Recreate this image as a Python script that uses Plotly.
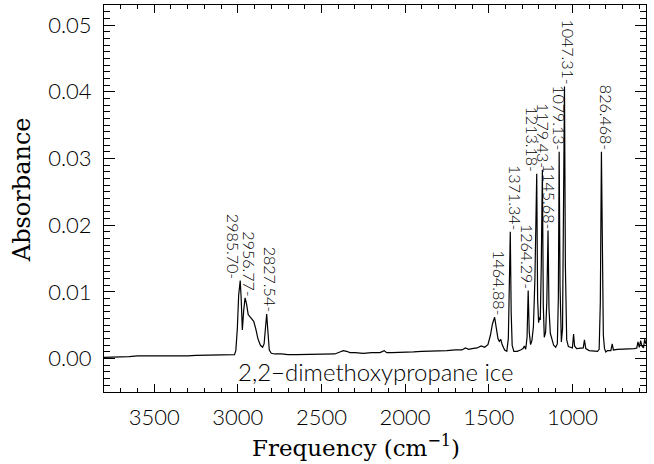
import plotly.graph_objects as go

# ---- data ----
wavenumber = [3800, 3750, 3700, 3650, 3600, 3550, 3500, 3450, 3400, 3350, 3300, 3250, 3200, 3150, 3100, 3050,
              3020, 3012, 3003, 2995, 2985.7, 2980, 2973, 2965, 2956.77, 2948, 2938, 2928, 2918, 2905, 2893,
              2880, 2865, 2852, 2843, 2835, 2827.54, 2820, 2812, 2800, 2780, 2740, 2700, 2650, 2600, 2550,
              2500, 2450, 2420, 2390, 2370, 2350, 2330, 2300, 2250, 2200, 2150, 2125, 2110, 2080, 2050, 2000,
              1950, 1900, 1850, 1800, 1750, 1700, 1660, 1640, 1620, 1600, 1570, 1545, 1525, 1505, 1490, 1478,
              1464.88, 1455, 1445, 1437, 1428, 1420, 1405, 1392, 1383, 1377, 1371.34, 1366, 1360, 1350, 1330,
              1310, 1295, 1287, 1279, 1271, 1264.29, 1258, 1250, 1242, 1233, 1224, 1213.18, 1208, 1202, 1197,
              1192, 1186, 1179.43, 1174, 1168, 1160, 1153, 1145.68, 1140, 1132, 1122, 1112, 1100, 1090, 1084,
              1079.13, 1074, 1066, 1059, 1053, 1047.31, 1042, 1034, 1024, 1014, 1000, 993, 987, 975, 955, 935,
              928, 920, 900, 870, 850, 840, 833, 826.468, 821, 815, 808, 800, 790, 770, 762, 755, 730, 700,
              660, 630, 615, 608, 600, 592, 585, 575, 568, 560]
absorbance = [0.0002, 0.0002, 0.0003, 0.0003, 0.0004, 0.0004, 0.0004, 0.0003, 0.0004, 0.0004, 0.0004, 0.0005,
              0.0005, 0.0005, 0.0005, 0.0006,
              0.0006, 0.0012, 0.0045, 0.0095, 0.0117, 0.0090, 0.0043, 0.0072, 0.0091, 0.0082, 0.0066, 0.0063,
              0.0060, 0.0056, 0.0045, 0.0030, 0.0020, 0.0017, 0.0022, 0.0050, 0.0067, 0.0040, 0.0013, 0.0008,
              0.0007, 0.0007, 0.0006, 0.0006, 0.0006, 0.0006,
              0.0007, 0.0007, 0.0007, 0.0010, 0.0012, 0.0011, 0.0009, 0.0009, 0.0008, 0.0009, 0.0009, 0.0012,
              0.0009, 0.0009, 0.0009, 0.0010,
              0.0010, 0.0011, 0.0011, 0.0012, 0.0012, 0.0013, 0.0013, 0.0016, 0.0014, 0.0015, 0.0016, 0.0019,
              0.0017, 0.0021, 0.0035, 0.0052,
              0.0062, 0.0046, 0.0030, 0.0026, 0.0029, 0.0021, 0.0013, 0.0011, 0.0030, 0.0110, 0.0190, 0.0070,
              0.0020, 0.0011, 0.0011,
              0.0013, 0.0015, 0.0019, 0.0014, 0.0032, 0.0102, 0.0040, 0.0021, 0.0027, 0.0048, 0.0120, 0.0277,
              0.0090, 0.0054, 0.0062,
              0.0058, 0.0140, 0.0283, 0.0080, 0.0032, 0.0040, 0.0085, 0.0192, 0.0075, 0.0038, 0.0030, 0.0020,
              0.0017, 0.0022, 0.0090,
              0.0310, 0.0110, 0.0025, 0.0045, 0.0190, 0.0408, 0.0140, 0.0028, 0.0018, 0.0017, 0.0016, 0.0037,
              0.0019, 0.0015, 0.0016, 0.0016,
              0.0028, 0.0015, 0.0012, 0.0011, 0.0011, 0.0014, 0.0085, 0.0310, 0.0190, 0.0035, 0.0015, 0.0010,
              0.0012, 0.0012, 0.0022, 0.0013, 0.0014, 0.0014,
              0.0015, 0.0015, 0.0016, 0.0025, 0.0017, 0.0027, 0.0019, 0.0016, 0.0029, 0.0022]

peak_positions = [2985.70, 2956.77, 2827.54, 1464.88, 1371.34, 1264.29, 1213.18, 1179.43, 1145.68, 1079.13,
                  1047.31, 826.468]
peak_heights = [0.0117, 0.0091, 0.0067, 0.0062, 0.0190, 0.0102, 0.0277, 0.0283, 0.0192, 0.0310, 0.0408, 0.0310]
peak_labels = ["2985.70", "2956.77", "2827.54", "1464.88", "1371.34", "1264.29", "1213.18", "1179.43",
               "1145.68", "1079.13", "1047.31", "826.468"]

sample_label = "2,2\u2212dimethoxypropane ice"
x_title = "Frequency (cm<sup>\u22121</sup>)"
y_title = "Absorbance"

# ---- styling ----
label_xshift = [-6, 5, 4, 5, 5, 0, -4, 1, 2, 1, 4, 5]
sans = "Lato"
serif = "DejaVu Serif"

fig = go.Figure()
fig.add_trace(go.Scatter(x=wavenumber, y=absorbance, mode="lines",
                         line=dict(color="black", width=1.2), showlegend=False, hoverinfo="skip"))

for xp, yp, txt, sh in zip(peak_positions, peak_heights, peak_labels, label_xshift):
    fig.add_annotation(x=xp, y=yp, text=txt + "-", textangle=90, showarrow=False,
                       xanchor="center", yanchor="bottom", xshift=sh, yshift=0,
                       font=dict(family=sans, size=16, color="black", weight=300))

fig.add_annotation(x=2180, y=-0.0020, text=sample_label, showarrow=False,
                   xanchor="center", yanchor="middle",
                   font=dict(family=sans, size=24, color="black", weight=300))

fig.add_annotation(xref="paper", yref="paper", x=0.465, y=-0.14, text=x_title, showarrow=False,
                   xanchor="center", yanchor="middle", font=dict(family=serif, size=23, color="black"))
fig.add_annotation(xref="paper", yref="paper", x=-0.151, y=0.522, text=y_title, showarrow=False,
                   textangle=-90, xanchor="center", yanchor="middle",
                   font=dict(family=serif, size=24, color="black"))

axis_common = dict(showline=True, linecolor="black", linewidth=1, mirror="allticks", ticks="inside",
                   showgrid=False, zeroline=False, tickcolor="black", tickwidth=1,
                   tickfont=dict(family=sans, size=22, color="black", weight=300))

fig.update_xaxes(range=[3800, 560], dtick=500, tick0=0, ticklen=8,
                 minor=dict(dtick=100, tick0=0, ticklen=4, ticks="inside", tickcolor="black", showgrid=False),
                 ticklabelstandoff=6, **axis_common)
fig.update_yaxes(range=[-0.005, 0.053], dtick=0.01, tick0=0, ticklen=11, tickformat=".2f",
                 minor=dict(dtick=0.001, tick0=0, ticklen=6, ticks="inside", tickcolor="black", showgrid=False),
                 ticklabelstandoff=7, **axis_common)

fig.update_layout(width=654, height=464, margin=dict(l=104, r=8, t=5, b=72),
                  paper_bgcolor="white", plot_bgcolor="white")

fig.write_html("out.html")
